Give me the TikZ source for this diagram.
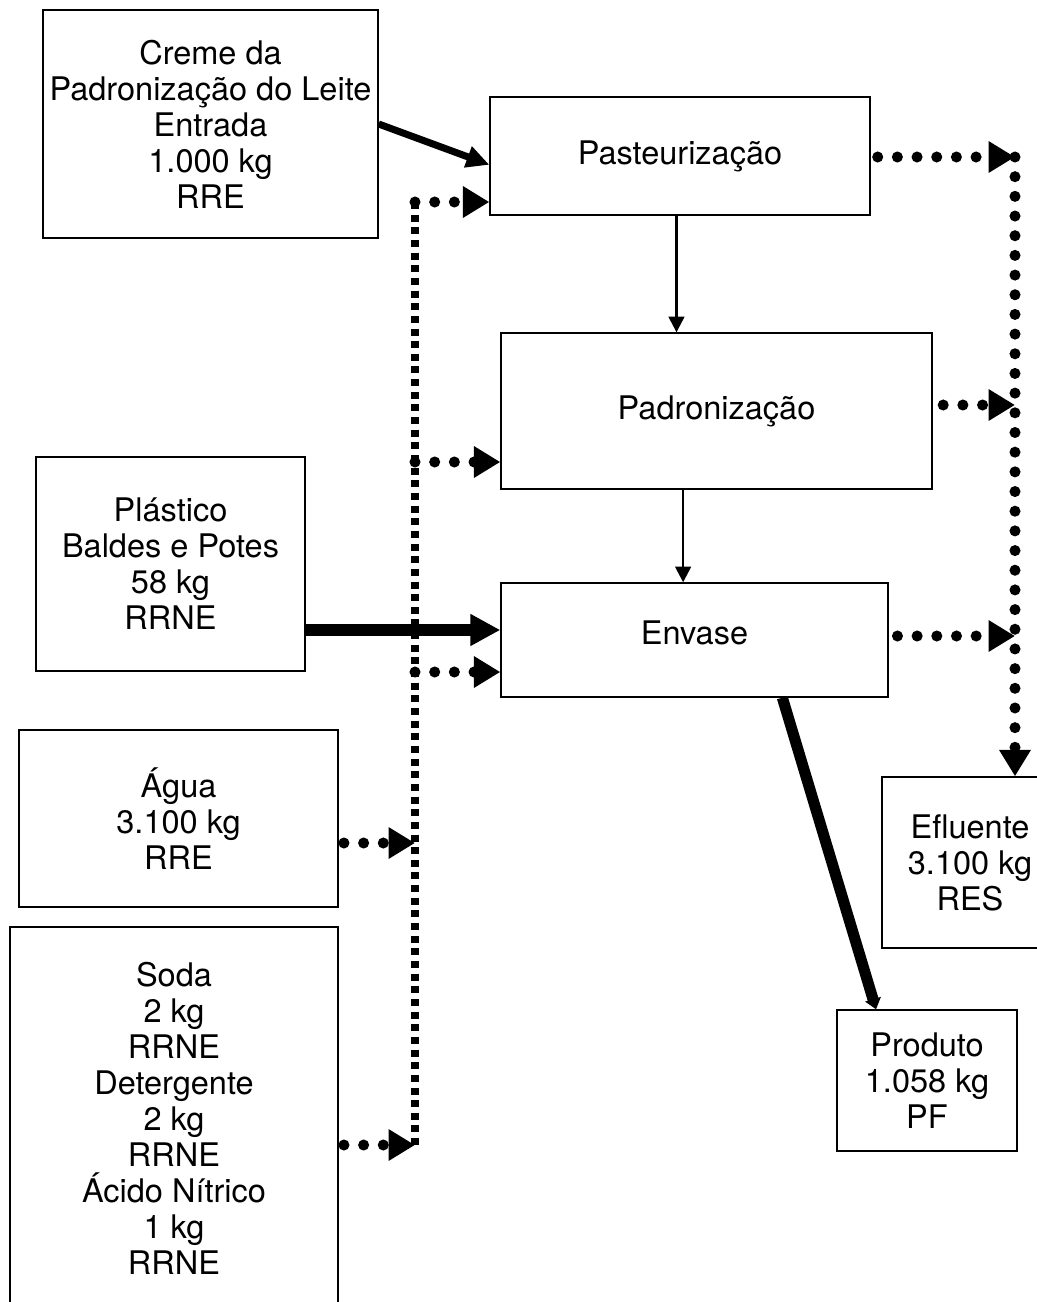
\documentclass[tikz,border=0pt]{standalone}
\usepackage{fontspec}
\setmainfont{TeX Gyre Heros}
\usetikzlibrary{arrows.meta,calc}

\tikzset{
  caixa/.style={draw, line width=0.8pt, align=center, inner sep=0pt,
    font=\fontsize{18.5}{20.5}\selectfont},
  fluxo/.style={line width=1.4pt, -{Triangle[length=9pt,width=9pt]}},
  grosso/.style={line width=4pt, -{Triangle[length=13pt,width=12pt]}},
  largo/.style={line width=6.8pt, -{Triangle[length=17pt,width=17pt]}},
  produto/.style={line width=6.3pt, -{Triangle[length=6pt,width=9pt]}},
  pontos/.style={line width=6.3pt, line cap=round, dash pattern=on 0pt off 11.2pt,
    -{Triangle[length=15pt,width=17pt]}},
  barra/.style={line width=4pt, dash pattern=on 4pt off 3.2pt}
}

\begin{document}
\begin{tikzpicture}[x=0.02cm,y=-0.02cm]
  \useasboundingbox (0,0) rectangle (1037,1302);
  \clip (0,0) rectangle (1037,1302);

  % caixas
  \node[caixa, minimum width=6.7cm, minimum height=4.56cm] (creme) at (210.5,124)
    {Creme da\\Padronização do Leite\\Entrada\\1.000 kg\\RRE};
  \node[caixa, minimum width=7.6cm, minimum height=2.36cm] (pas) at (680,156) {Pasteurização};
  \node[caixa, minimum width=8.62cm, minimum height=3.12cm] (pad) at (716.5,411) {Padronização};
  \node[caixa, minimum width=5.38cm, minimum height=4.28cm] (pla) at (170.5,564)
    {Plástico\\Baldes e Potes\\58 kg\\RRNE};
  \node[caixa, minimum width=7.74cm, minimum height=2.28cm, text depth=8pt] (env) at (694.5,640) {Envase};
  \node[caixa, minimum width=6.38cm, minimum height=3.54cm] (agua) at (178.5,818.5)
    {Água\\3.100 kg\\RRE};
  \node[caixa, minimum width=6.56cm, minimum height=7.64cm] (soda) at (174,1118)
    {Soda\\2 kg\\RRNE\\Detergente\\2 kg\\RRNE\\Ácido Nítrico\\1 kg\\RRNE};
  \node[caixa, minimum width=3.52cm, minimum height=3.42cm] (efl) at (970,862.5)
    {Efluente\\3.100 kg\\RES};
  \node[caixa, minimum width=3.6cm, minimum height=2.82cm] (pro) at (927,1080.5)
    {Produto\\1.058 kg\\PF};

  % fluxo principal
  \draw[grosso] (creme.east) -- ([yshift=-5pt]pas.west);
  \draw[fluxo] ([xshift=-2pt]pas.south) -- ([xshift=-2pt]pas.south |- pad.north);
  \draw[fluxo] ([xshift=-19pt]pad.south) -- ([xshift=-19pt]pad.south |- env.north);
  \coordinate (envin) at ([yshift=5.7pt]env.west);
  \draw[largo] (envin -| pla.east) -- (envin);
  \draw[produto] ([xshift=50pt]env.south) -- ([xshift=-29pt]pro.north);

  % agua e produtos de limpeza
  \coordinate (bt) at (415,202);
  \coordinate (b2) at (415,462);
  \coordinate (b3) at (415,672);
  \coordinate (b4) at (415,843);
  \coordinate (bb) at (415,1145);
  \draw[barra] (bt) -- (bb);
  \draw[pontos] (bt) -- (bt -| pas.west);
  \draw[pontos] (b2) -- (b2 -| pad.west);
  \draw[pontos] (b3) -- (b3 -| env.west);
  \draw[pontos, shorten <=3pt] (b4 -| agua.east) -- (b4);
  \draw[pontos, shorten <=3pt] (bb -| soda.east) -- (bb);

  % efluente
  \coordinate (rt) at (1015,157);
  \coordinate (r2) at (1015,405);
  \coordinate (r3) at (1015,636);
  \draw[pontos, shorten <=4pt] (rt -| pas.east) -- (rt);
  \draw[pontos, shorten <=6pt] (r2 -| pad.east) -- (r2);
  \draw[pontos, shorten <=5pt] (r3 -| env.east) -- (r3);
  \draw[pontos] (rt) -- (rt |- efl.north);
\end{tikzpicture}
\end{document}
